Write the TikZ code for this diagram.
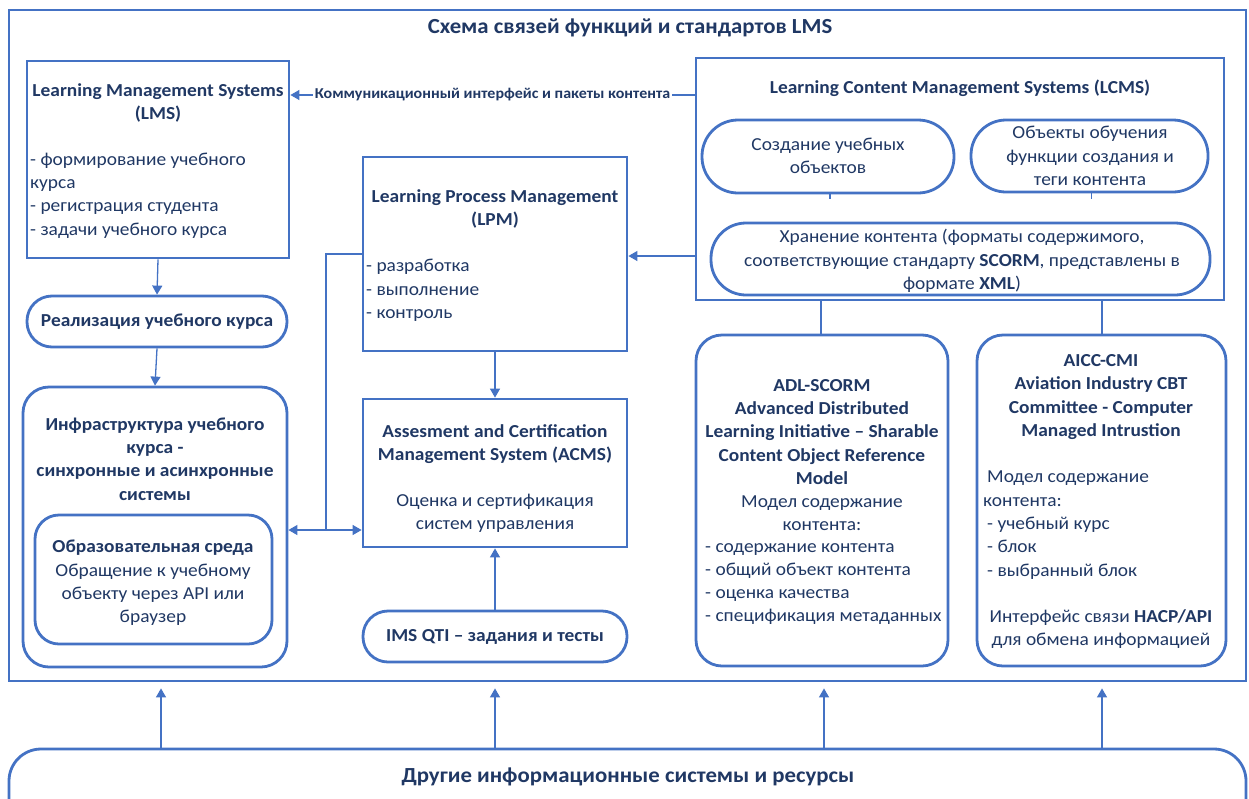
\documentclass[tikz,border=0pt]{standalone}
\usepackage{fontspec}
\setmainfont{Carlito}[FakeStretch=1.06]
\usetikzlibrary{arrows.meta}
\definecolor{lineblue}{HTML}{4472C4}
\definecolor{txt}{HTML}{203864}
\newcommand{\bodysize}{\fontsize{18.3}{23.3}\selectfont}
\tikzset{
  frameline/.style={draw=lineblue, line width=2.8pt},
  sqbox/.style={frameline, rectangle, inner sep=0pt},
  rbox/.style={frameline, rectangle, rounded corners=26pt, inner sep=0pt},
  conn/.style={draw=lineblue, line width=1.3pt},
  arr/.style={conn, -{Triangle[length=9pt,width=10pt]}},
  txtc/.style={text=txt, align=center, inner sep=0pt, font=\bodysize},
  txtl/.style={text=txt, align=left, inner sep=0pt, font=\bodysize},
  txtb/.style={txtc, font=\bodysize\bfseries},
}
% place a plain box by its edge coordinates: x1, y1, x2, y2
\newcommand{\boxat}[6]{%
  \node[#1, minimum width={#5-#3}, minimum height={#6-#4}] (#2) at ({(#3+#5)/2},{(#4+#6)/2}) {};}
\begin{document}
\begin{tikzpicture}[x=1pt,y=-1pt]
\clip (0,0) rectangle (1249,798);
\fill[white] (0,0) rectangle (1249,798);

% outer frame and title
\boxat{sqbox}{frame}{9}{10}{1246}{681}
\node[txtb, font=\fontsize{21.5}{24}\selectfont\bfseries] (title) at (630,28) {Схема связей функций и стандартов LMS};

% left column
\boxat{sqbox}{lms}{27}{61}{289}{258}
\node[txtb] (lmsT) at (158,103) {Learning Management Systems\\(LMS)};
\node[txtl, anchor=west] (lmsL) at (30,195.5) {- формирование учебного\\курса\\- регистрация студента\\- задачи учебного курса};

\boxat{sqbox, rounded corners=25pt}{real}{27}{296}{287}{347}
\node[txtb] (realT) at (157,322) {Реализация учебного курса};

\boxat{rbox}{infra}{23}{387}{287}{667}
\node[txtb] (infraT) at (155,459) {Инфраструктура учебного\\курса -\\синхронные и асинхронные\\системы};
\boxat{rbox, rounded corners=24pt}{env}{35}{515}{272}{644}
\node[txtc] (envT) at (153,583) {\textbf{Образовательная среда}\\Обращение к учебному\\объекту через API или\\браузер};

% middle column
\boxat{sqbox}{lpm}{363}{157}{627}{351}
\node[txtb] (lpmT) at (495,209) {Learning Process Management\\(LPM)};
\node[txtl, anchor=west] (lpmL) at (366,290.5) {- разработка\\- выполнение\\- контроль};

\boxat{sqbox}{acms}{363}{399}{627}{547}
\node[txtb] (acmsT) at (495,444) {Assesment and Certification\\Management System (ACMS)};
\node[txtc] (acmsD) at (495,513) {Оценка и сертификация\\систем управления};

\boxat{sqbox, rounded corners=25pt}{ims}{363}{611}{627}{662}
\node[txtb] (imsT) at (495,637) {IMS QTI – задания и тесты};

% LCMS block
\boxat{sqbox}{lcms}{696}{58}{1224}{300}
\node[txtb] (lcmsT) at (960,88) {Learning Content Management Systems (LCMS)};
\boxat{sqbox, rounded corners=36pt}{create}{702}{120}{954}{193}
\node[txtc] (createT) at (828,156) {Создание учебных\\объектов};
\boxat{sqbox, rounded corners=35pt}{objs}{971}{120}{1208}{192}
\node[txtc] (objsT) at (1090,156) {Объекты обучения\\функции создания и\\теги контента};
\boxat{sqbox, rounded corners=35pt}{store}{711}{223}{1210}{295}
\node[txtc] (storeT) at (962,261) {Хранение контента (форматы содержимого,\\соответствующие стандарту \textbf{SCORM}, представлены в\\формате \textbf{XML})};

% standards
\boxat{rbox}{adl}{696}{335}{948}{666}
\node[txtb] (adlT) at (822,432) {ADL-SCORM\\Advanced Distributed\\Learning Initiative – Sharable\\Content Object Reference\\Model};
\node[txtc] (adlM) at (822,513) {Модел содержание\\контента:};
\node[txtl, anchor=west] (adlL) at (705,584) {- содержание контента\\- общий объект контента\\- оценка качества\\- спецификация метаданных};

\boxat{rbox}{aicc}{977}{335}{1226}{666}
\node[txtb] (aiccT) at (1101,397) {AICC-CMI\\Aviation Industry CBT\\Committee - Computer\\Managed Intrustion};
\node[txtl, anchor=west] (aiccL) at (987,525) {Модел содержание\\\hspace*{-4pt}контента:\\- учебный курс\\- блок\\- выбранный блок};
\node[txtc] (aiccI) at (1101,629) {Интерфейс связи \textbf{HACP/API}\\для обмена информацией};

% external systems
\boxat{sqbox, rounded corners=32pt}{others}{9}{749}{1246}{840}
\node[txtb, font=\fontsize{21.5}{24}\selectfont\bfseries] (othersT) at (628,777) {Другие информационные системы и ресурсы};

% connectors
\draw[arr] (lcms.west |- 0,95) -- node[fill=white, inner sep=2pt, text=txt, font=\fontsize{15.1}{17}\selectfont\bfseries] (commT) {Коммуникационный интерфейс и пакеты контента} (lms.east |- 0,95);
\draw[arr] (lms.south) -- (real.north);
\draw[arr] (real.south) -- (infra.north);
\coordinate (split) at (326,530);
\draw[conn] (lpm.west) -| (split);
\draw[arr] (split) -- (infra.east |- split);
\draw[arr] (split) -- (acms.west |- split);
\draw[arr] (lpm.south) -- (acms.north);
\draw[arr] (ims.north) -- (acms.south);
\draw[arr] (lcms.west |- 0,256) -- (lpm.east |- 0,256);
\draw[conn] (create.south) ++(2,0) -- ++(0,5);
\draw[conn] (objs.south) ++(2,0) -- ++(0,6);
\draw[conn] (821,0 |- adl.north) -- (821,0 |- lcms.south);
\draw[conn] (1102,0 |- aicc.north) -- (1102,0 |- lcms.south);
\foreach \xx in {161,495,824,1102}
  \draw[arr] (\xx,0 |- others.north) -- ([yshift=-6pt]\xx,0 |- frame.south);
\end{tikzpicture}
\end{document}
